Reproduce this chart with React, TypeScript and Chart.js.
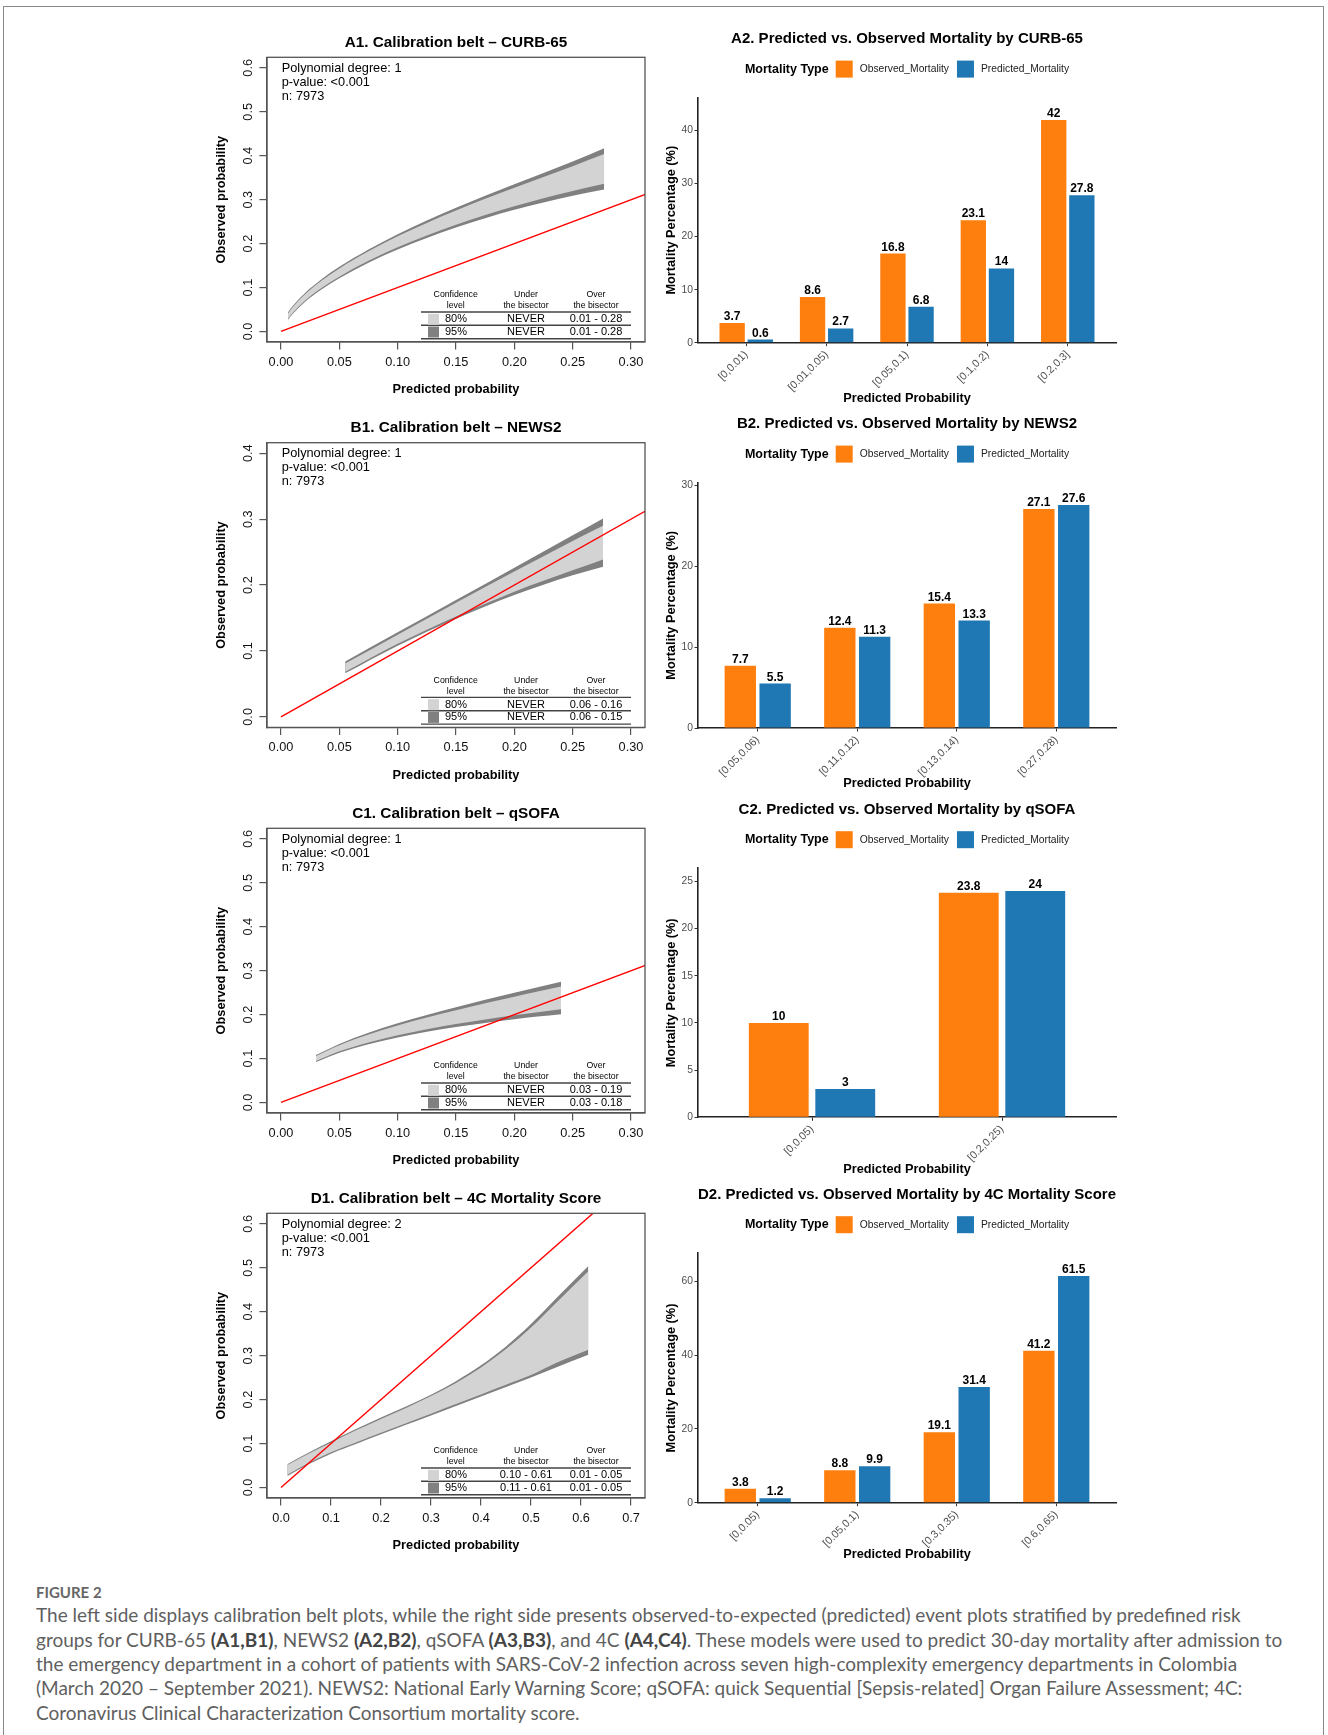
import React, { useEffect, useRef } from 'react';
import { Chart, registerables } from 'chart.js';

Chart.register(...registerables);

const FONT = '"Liberation Sans", Arial, Helvetica, sans-serif';
Chart.defaults.font.family = FONT;

// ---------------- Calibration belts (left column) ----------------
const beltXTicks03 = [0, 0.05, 0.1, 0.15, 0.2, 0.25, 0.3];
const beltXLabels03 = ['0.00', '0.05', '0.10', '0.15', '0.20', '0.25', '0.30'];
const beltXTicks07 = [0, 0.1, 0.2, 0.3, 0.4, 0.5, 0.6, 0.7];
const beltXLabels07 = ['0.0', '0.1', '0.2', '0.3', '0.4', '0.5', '0.6', '0.7'];
const beltYTicks06 = [0, 0.1, 0.2, 0.3, 0.4, 0.5, 0.6];
const beltYLabels06 = ['0.0', '0.1', '0.2', '0.3', '0.4', '0.5', '0.6'];
const beltYTicks04 = [0, 0.1, 0.2, 0.3, 0.4];
const beltYLabels04 = ['0.0', '0.1', '0.2', '0.3', '0.4'];

const a1X = [0.006, 0.01, 0.02, 0.035, 0.05, 0.075, 0.1, 0.15, 0.2, 0.25, 0.277];
const a1Hi95 = [0.0435, 0.0577, 0.086, 0.1192, 0.147, 0.1865, 0.2215, 0.2815, 0.335, 0.387, 0.417];
const a1Hi80 = [0.0411, 0.0552, 0.0832, 0.116, 0.1434, 0.1823, 0.2166, 0.2752, 0.3269, 0.3761, 0.4038];
const a1Lo80 = [0.0289, 0.0422, 0.0688, 0.0994, 0.1246, 0.1607, 0.1914, 0.2428, 0.2851, 0.3199, 0.3362];
const a1Lo95 = [0.0265, 0.0397, 0.066, 0.0962, 0.121, 0.1565, 0.1865, 0.2365, 0.277, 0.309, 0.323];

const b1X = [0.055, 0.1, 0.15, 0.2, 0.25, 0.276];
const b1Hi95 = [0.084, 0.1282, 0.1773, 0.2264, 0.2755, 0.301];
const b1Hi80 = [0.081, 0.1247, 0.1733, 0.2204, 0.267, 0.29];
const b1Lo80 = [0.0685, 0.1109, 0.1524, 0.1899, 0.2224, 0.2389];
const b1Lo95 = [0.066, 0.1079, 0.1489, 0.1849, 0.2149, 0.2279];

const c1X = [0.03, 0.05, 0.075, 0.1, 0.125, 0.15, 0.175, 0.2, 0.22, 0.24];
const c1Hi95 = [0.108, 0.1333, 0.1587, 0.18, 0.199, 0.2165, 0.234, 0.2496, 0.2625, 0.275];
const c1Hi80 = [0.1056, 0.1303, 0.1548, 0.1752, 0.1933, 0.2098, 0.226, 0.2406, 0.2525, 0.2639];
const c1Lo80 = [0.0944, 0.1163, 0.1366, 0.1528, 0.1667, 0.1783, 0.189, 0.1986, 0.2055, 0.2121];
const c1Lo95 = [0.092, 0.1133, 0.1327, 0.148, 0.161, 0.1715, 0.181, 0.1896, 0.1955, 0.201];

const d1X = [0.0127, 0.05, 0.1, 0.15, 0.2, 0.25, 0.3, 0.35, 0.4, 0.45, 0.5, 0.55, 0.6147];
const d1Hi95 = [0.053, 0.076, 0.105, 0.133, 0.159, 0.184, 0.211, 0.242, 0.278, 0.321, 0.372, 0.43, 0.504];
const d1Hi80 = [0.051, 0.074, 0.102, 0.13, 0.156, 0.181, 0.208, 0.238, 0.273, 0.315, 0.364, 0.42, 0.492];
const d1Lo80 = [0.0288, 0.053, 0.08, 0.1025, 0.1245, 0.146, 0.1678, 0.1897, 0.2117, 0.2338, 0.256, 0.2835, 0.3136];
const d1Lo95 = [0.0258, 0.05, 0.077, 0.099, 0.121, 0.1425, 0.164, 0.1855, 0.207, 0.2285, 0.2505, 0.273, 0.302];

const beltInfoDeg1 = ['Polynomial degree: 1', 'p-value: <0.001', 'n: 7973'];
const beltInfoDeg2 = ['Polynomial degree: 2', 'p-value: <0.001', 'n: 7973'];
const beltTableHeader = [['Confidence', 'level'], ['Under', 'the bisector'], ['Over', 'the bisector']];
const a1Table = [['80%', 'NEVER', '0.01 - 0.28'], ['95%', 'NEVER', '0.01 - 0.28']];
const b1Table = [['80%', 'NEVER', '0.06 - 0.16'], ['95%', 'NEVER', '0.06 - 0.15']];
const c1Table = [['80%', 'NEVER', '0.03 - 0.19'], ['95%', 'NEVER', '0.03 - 0.18']];
const d1Table = [['80%', '0.10 - 0.61', '0.01 - 0.05'], ['95%', '0.11 - 0.61', '0.01 - 0.05']];

// ---------------- Observed vs predicted bars (right column) ----------------
const seriesNames = ['Observed_Mortality', 'Predicted_Mortality'];
const a2Categories = ['[0,0.01)', '[0.01,0.05)', '[0.05,0.1)', '[0.1,0.2)', '[0.2,0.3]'];
const a2Observed = [3.7, 8.6, 16.8, 23.1, 42];
const a2Predicted = [0.6, 2.7, 6.8, 14, 27.8];
const a2YTicks = [0, 10, 20, 30, 40];
const b2Categories = ['[0.05,0.06)', '[0.11,0.12)', '[0.13,0.14)', '[0.27,0.28)'];
const b2Observed = [7.7, 12.4, 15.4, 27.1];
const b2Predicted = [5.5, 11.3, 13.3, 27.6];
const b2YTicks = [0, 10, 20, 30];
const c2Categories = ['[0,0.05)', '[0.2,0.25)'];
const c2Observed = [10, 23.8];
const c2Predicted = [3, 24];
const c2YTicks = [0, 5, 10, 15, 20, 25];
const d2Categories = ['[0,0.05)', '[0.05,0.1)', '[0.3,0.35)', '[0.6,0.65)'];
const d2Observed = [3.8, 8.8, 19.1, 41.2];
const d2Predicted = [1.2, 9.9, 31.4, 61.5];
const d2YTicks = [0, 20, 40, 60];

const ORANGE = '#ff7f0e';
const BLUE = '#1f77b4';

const beltPanels = [
  { title: 'A1. Calibration belt – CURB-65', boxTop: 57.3, x: a1X, hi95: a1Hi95, hi80: a1Hi80, lo80: a1Lo80, lo95: a1Lo95,
    xMin: -0.012, xMax: 0.312, xTicks: beltXTicks03, xLabels: beltXLabels03, yMin: -0.024, yMax: 0.624, yTicks: beltYTicks06, yLabels: beltYLabels06, info: beltInfoDeg1, table: a1Table },
  { title: 'B1. Calibration belt – NEWS2', boxTop: 442.7, x: b1X, hi95: b1Hi95, hi80: b1Hi80, lo80: b1Lo80, lo95: b1Lo95,
    xMin: -0.012, xMax: 0.312, xTicks: beltXTicks03, xLabels: beltXLabels03, yMin: -0.016, yMax: 0.416, yTicks: beltYTicks04, yLabels: beltYLabels04, info: beltInfoDeg1, table: b1Table },
  { title: 'C1. Calibration belt – qSOFA', boxTop: 828.3, x: c1X, hi95: c1Hi95, hi80: c1Hi80, lo80: c1Lo80, lo95: c1Lo95,
    xMin: -0.012, xMax: 0.312, xTicks: beltXTicks03, xLabels: beltXLabels03, yMin: -0.024, yMax: 0.624, yTicks: beltYTicks06, yLabels: beltYLabels06, info: beltInfoDeg1, table: c1Table },
  { title: 'D1. Calibration belt – 4C Mortality Score', boxTop: 1213.3, x: d1X, hi95: d1Hi95, hi80: d1Hi80, lo80: d1Lo80, lo95: d1Lo95,
    xMin: -0.028, xMax: 0.728, xTicks: beltXTicks07, xLabels: beltXLabels07, yMin: -0.024, yMax: 0.624, yTicks: beltYTicks06, yLabels: beltYLabels06, info: beltInfoDeg2, table: d1Table },
];

const barPanels = [
  { title: 'A2. Predicted vs. Observed Mortality by CURB-65', axisTop: 97.7, axisBottom: 342.7, xTitleY: 398, cats: a2Categories, obs: a2Observed, pred: a2Predicted, yTicks: a2YTicks },
  { title: 'B2. Predicted vs. Observed Mortality by NEWS2', axisTop: 482.7, axisBottom: 728, xTitleY: 783.3, cats: b2Categories, obs: b2Observed, pred: b2Predicted, yTicks: b2YTicks },
  { title: 'C2. Predicted vs. Observed Mortality by qSOFA', axisTop: 868.3, axisBottom: 1117.3, xTitleY: 1169, cats: c2Categories, obs: c2Observed, pred: c2Predicted, yTicks: c2YTicks },
  { title: 'D2. Predicted vs. Observed Mortality by 4C Mortality Score', axisTop: 1253.3, axisBottom: 1502.7, xTitleY: 1554, cats: d2Categories, obs: d2Observed, pred: d2Predicted, yTicks: d2YTicks },
];

// ---------------- Layout constants ----------------
const L_CANVAS_X = 150;
const L_CANVAS_W = 510;
const L_BOX_LEFT = 267;
const L_BOX_RIGHT = 645;
const L_BOX_H = 284.7;

const R_CANVAS_X = 650;
const R_CANVAS_W = 560;
const R_AXIS_LEFT = 698;
const R_AXIS_RIGHT = 1116;

function BeltPanel({ p }: { p: any }) {
  const ref = useRef<HTMLCanvasElement>(null);
  const canvasTop = Math.round(p.boxTop - 40);
  const titleRegion = p.boxTop - canvasTop;
  const canvasH = 386;
  const xAxisH = canvasH - titleRegion - L_BOX_H;

  useEffect(() => {
    const el = ref.current!;
    const pts = (arr: number[]) => p.x.map((x: number, i: number) => ({ x, y: arr[i] }));
    const band = (arr: number[], extra: any) => ({
      data: pts(arr), borderColor: 'rgba(0,0,0,0)', borderWidth: 0, pointRadius: 0,
      cubicInterpolationMode: 'monotone', ...extra,
    });
    const titleSize = 15.3;
    const titleLH = titleSize * 1.2;
    const titleCenter = p.boxTop - 14.6 - canvasTop;
    const tPadTop = titleCenter - titleLH / 2;
    const tPadBottom = titleRegion - tPadTop - titleLH;

    const decor = {
      id: 'beltDecor',
      afterDraw(chart: any) {
        const { ctx, chartArea: ca } = chart;
        ctx.save();
        ctx.fillStyle = '#000';
        ctx.font = `12.75px ${FONT}`;
        ctx.textAlign = 'left';
        ctx.textBaseline = 'alphabetic';
        p.info.forEach((t: string, i: number) => ctx.fillText(t, ca.left + 14.7, ca.top + 14.5 + i * 14));
        const R = ca.right, B = ca.bottom;
        const cols = [R - 189.3, R - 119, R - 49];
        ctx.font = `8.75px ${FONT}`;
        ctx.textAlign = 'center';
        ctx.textBaseline = 'middle';
        beltTableHeader.forEach((h, c) => {
          ctx.fillText(h[0], cols[c], B - 47);
          ctx.fillText(h[1], cols[c], B - 36);
        });
        ctx.strokeStyle = '#444';
        ctx.lineWidth = 1.4;
        [B - 30, B - 16.7, B - 3.3].forEach((y) => {
          ctx.beginPath(); ctx.moveTo(R - 224, y); ctx.lineTo(R - 14, y); ctx.stroke();
        });
        const rowY = [B - 22.7, B - 10];
        const sw = ['#d3d3d3', '#808080'];
        ctx.font = `11px ${FONT}`;
        p.table.forEach((row: string[], r: number) => {
          ctx.fillStyle = sw[r];
          ctx.fillRect(R - 217, rowY[r] - 5.5, 11, 11);
          ctx.fillStyle = '#000';
          ctx.textAlign = 'left';
          ctx.fillText(row[0], R - 200, rowY[r]);
          ctx.textAlign = 'center';
          ctx.fillText(row[1], cols[1], rowY[r]);
          ctx.fillText(row[2], cols[2], rowY[r]);
        });
        ctx.strokeStyle = '#555';
        ctx.lineWidth = 1.3;
        ctx.strokeRect(ca.left, ca.top, ca.right - ca.left, ca.bottom - ca.top);
        ctx.restore();
      },
    };

    const chart = new Chart(el, {
      type: 'line',
      data: {
        datasets: [
          { label: 'bisector', data: [{ x: 0, y: 0 }, { x: 1, y: 1 }], borderColor: '#ff0000', borderWidth: 1.4, pointRadius: 0, fill: false, order: 0 } as any,
          band(p.hi80, { label: 'hi80', fill: '+1', backgroundColor: '#d3d3d3', order: 1 }),
          band(p.lo80, { label: 'lo80', fill: false, order: 2 }),
          band(p.hi95, { label: 'hi95', fill: '+1', backgroundColor: '#808080', order: 3 }),
          band(p.lo95, { label: 'lo95', fill: false, order: 4 }),
        ],
      },
      options: {
        animation: false,
        responsive: false,
        events: [],
        layout: { padding: { left: 0, right: L_CANVAS_X + L_CANVAS_W - L_BOX_RIGHT, top: 0, bottom: 0 }, autoPadding: false },
        plugins: {
          legend: { display: false },
          tooltip: { enabled: false },
          title: {
            display: true, text: p.title, fullSize: false, color: '#000',
            font: { family: FONT, size: titleSize, weight: 'bold', lineHeight: 1.2 },
            padding: { top: tPadTop, bottom: tPadBottom },
          },
        },
        scales: {
          x: {
            type: 'linear', min: p.xMin, max: p.xMax,
            afterBuildTicks: (ax: any) => { ax.ticks = p.xTicks.map((v: number) => ({ value: v })); },
            afterFit: (ax: any) => { ax.height = xAxisH; },
            ticks: { autoSkip: false, maxRotation: 0, minRotation: 0, color: '#111', padding: 4.9,
              font: { family: FONT, size: 12.75 }, callback: (_v: any, i: number) => p.xLabels[i] },
            grid: { display: true, drawOnChartArea: false, drawTicks: true, tickLength: 7.6, color: '#555', lineWidth: 1.2 },
            border: { display: true, color: '#555', width: 1.3 },
            title: { display: true, text: 'Predicted probability', color: '#000',
              font: { family: FONT, size: 12.75, weight: 'bold', lineHeight: 1.2 }, padding: { top: 0, bottom: 5.65 } },
          },
          y: {
            type: 'linear', min: p.yMin, max: p.yMax,
            afterBuildTicks: (ax: any) => { ax.ticks = p.yTicks.map((v: number) => ({ value: v })); },
            afterFit: (ax: any) => { ax.width = L_BOX_LEFT - L_CANVAS_X; },
            ticks: { autoSkip: false, minRotation: 90, maxRotation: 90, crossAlign: 'center', color: '#111', padding: 2.5,
              font: { family: FONT, size: 12.75 }, callback: (_v: any, i: number) => p.yLabels[i] },
            grid: { display: true, drawOnChartArea: false, drawTicks: true, tickLength: 7.6, color: '#555', lineWidth: 1.2 },
            border: { display: true, color: '#555', width: 1.3 },
            title: { display: true, text: 'Observed probability', color: '#000',
              font: { family: FONT, size: 12.75, weight: 'bold', lineHeight: 1.2 }, padding: { top: 221 - L_CANVAS_X - 7.65, bottom: 0 } },
          },
        },
      } as any,
      plugins: [decor],
    });
    return () => chart.destroy();
  }, [p]);

  return (
    <canvas ref={ref} width={L_CANVAS_W} height={canvasH}
      style={{ position: 'absolute', left: L_CANVAS_X, top: canvasTop, width: L_CANVAS_W, height: canvasH }} />
  );
}

function BarPanel({ p }: { p: any }) {
  const ref = useRef<HTMLCanvasElement>(null);
  const canvasTop = Math.round(p.axisTop - 75);
  const canvasBottom = Math.round(p.xTitleY + 14);
  const canvasH = canvasBottom - canvasTop;
  const topRegion = p.axisTop - canvasTop;
  const xAxisH = canvasBottom - p.axisBottom;

  useEffect(() => {
    const el = ref.current!;
    const n = p.cats.length;
    const yMax = Math.max(...p.obs, ...p.pred) * 1.1;
    const titleSize = 15;
    const titleLH = titleSize * 1.2;
    const titleCenter = p.axisTop - 58.7 - canvasTop;
    const tPadTop = titleCenter - titleLH / 2;
    const tPadBottom = topRegion - tPadTop - titleLH;

    const decor = {
      id: 'barDecor',
      afterDatasetsDraw(chart: any) {
        const { ctx } = chart;
        ctx.save();
        ctx.fillStyle = '#000';
        ctx.font = `bold 12px ${FONT}`;
        ctx.textAlign = 'center';
        ctx.textBaseline = 'alphabetic';
        chart.data.datasets.forEach((ds: any, di: number) => {
          const meta = chart.getDatasetMeta(di);
          meta.data.forEach((bar: any, i: number) => {
            ctx.fillText(String(ds.data[i].y), bar.x, bar.y - 3);
          });
        });
        ctx.restore();
      },
      afterDraw(chart: any) {
        const { ctx, chartArea: ca } = chart;
        ctx.save();
        const cx = (ca.left + ca.right) / 2;
        const y = ca.top - 28.6;
        ctx.font = `bold 12.5px ${FONT}`;
        const title = 'Mortality Type';
        const wT = ctx.measureText(title).width;
        ctx.font = `10.3px ${FONT}`;
        const labels = chart.data.datasets.map((d: any) => d.label);
        const colors = chart.data.datasets.map((d: any) => d.backgroundColor);
        const wL = labels.map((l: string) => ctx.measureText(l).width);
        const key = 17, g1 = 7, g2 = 7, g3 = 8;
        const total = wT + g1 + key + g2 + wL[0] + g3 + key + g2 + wL[1];
        let x = cx - total / 2;
        ctx.textBaseline = 'middle';
        ctx.textAlign = 'left';
        ctx.fillStyle = '#000';
        ctx.font = `bold 12.5px ${FONT}`;
        ctx.fillText(title, x, y);
        x += wT + g1;
        ctx.font = `10.3px ${FONT}`;
        for (let i = 0; i < 2; i++) {
          ctx.fillStyle = colors[i];
          ctx.fillRect(x, y - key / 2, key, key);
          x += key + g2;
          ctx.fillStyle = '#222';
          ctx.fillText(labels[i], x, y);
          x += wL[i] + g3;
        }
        ctx.restore();
      },
    };

    const chart = new Chart(el, {
      type: 'bar',
      data: {
        datasets: [
          { label: seriesNames[0], data: p.obs.map((v: number, i: number) => ({ x: i, y: v })), backgroundColor: ORANGE },
          { label: seriesNames[1], data: p.pred.map((v: number, i: number) => ({ x: i, y: v })), backgroundColor: BLUE },
        ],
      },
      options: {
        animation: false,
        responsive: false,
        events: [],
        layout: { padding: { left: 0, right: R_CANVAS_X + R_CANVAS_W - R_AXIS_RIGHT, top: 0, bottom: 0 }, autoPadding: false },
        datasets: { bar: { categoryPercentage: 0.7, barPercentage: 0.9 } },
        plugins: {
          legend: { display: false },
          tooltip: { enabled: false },
          title: {
            display: true, text: p.title, fullSize: false, color: '#000',
            font: { family: FONT, size: titleSize, weight: 'bold', lineHeight: 1.2 },
            padding: { top: tPadTop, bottom: tPadBottom },
          },
        },
        scales: {
          x: {
            type: 'linear', min: -0.6, max: n - 1 + 0.6, offset: false,
            afterBuildTicks: (ax: any) => { ax.ticks = p.cats.map((_c: string, i: number) => ({ value: i })); },
            afterFit: (ax: any) => { ax.height = xAxisH; },
            ticks: { autoSkip: false, minRotation: 45, maxRotation: 45, color: '#4d4d4d', padding: 2,
              font: { family: FONT, size: 10.8 }, callback: (_v: any, i: number) => p.cats[i] },
            grid: { display: true, offset: false, drawOnChartArea: false, drawTicks: true, tickLength: 3.5, color: '#333', lineWidth: 1 },
            border: { display: true, color: '#222', width: 1.6 },
            title: { display: true, text: 'Predicted Probability', color: '#000',
              font: { family: FONT, size: 12.75, weight: 'bold', lineHeight: 1.2 }, padding: { top: 0, bottom: 14 - 7.65 } },
          },
          y: {
            type: 'linear', min: 0, max: yMax,
            afterBuildTicks: (ax: any) => { ax.ticks = p.yTicks.map((v: number) => ({ value: v })); },
            afterFit: (ax: any) => { ax.width = R_AXIS_LEFT - R_CANVAS_X; },
            ticks: { autoSkip: false, color: '#4d4d4d', padding: 1.5, font: { family: FONT, size: 10.3 } },
            grid: { display: true, drawOnChartArea: false, drawTicks: true, tickLength: 3.5, color: '#333', lineWidth: 1 },
            border: { display: true, color: '#222', width: 1.6 },
            title: { display: true, text: 'Mortality Percentage (%)', color: '#000',
              font: { family: FONT, size: 12.75, weight: 'bold', lineHeight: 1.2 }, padding: { top: 671.6 - R_CANVAS_X - 7.65, bottom: 0 } },
          },
        },
      } as any,
      plugins: [decor],
    });
    return () => chart.destroy();
  }, [p]);

  return (
    <canvas ref={ref} width={R_CANVAS_W} height={canvasH}
      style={{ position: 'absolute', left: R_CANVAS_X, top: canvasTop, width: R_CANVAS_W, height: canvasH }} />
  );
}

const captionLines: (string | { b: string })[][] = [
  ['The left side displays calibration belt plots, while the right side presents observed-to-expected (predicted) event plots stratified by predefined risk'],
  ['groups for CURB-65 ', { b: '(A1,B1)' }, ', NEWS2 ', { b: '(A2,B2)' }, ', qSOFA ', { b: '(A3,B3)' }, ', and 4C ', { b: '(A4,C4)' }, '. These models were used to predict 30-day mortality after admission to'],
  ['the emergency department in a cohort of patients with SARS-CoV-2 infection across seven high-complexity emergency departments in Colombia'],
  ['(March 2020 – September 2021). NEWS2: National Early Warning Score; qSOFA: quick Sequential [Sepsis-related] Organ Failure Assessment; 4C:'],
  ['Coronavirus Clinical Characterization Consortium mortality score.'],
];

export default function App() {
  const capFont = 'Lato, "Open Sans", sans-serif';
  return (
    <div style={{ position: 'absolute', left: 0, top: 0, width: 1328, height: 1735, background: '#fff', overflow: 'hidden' }}>
      <div style={{ position: 'absolute', left: 3, top: 6, width: 1321, height: 1760, border: '1.5px solid #8a8a8a', boxSizing: 'border-box' }} />
      {beltPanels.map((p, i) => <BeltPanel key={'b' + i} p={p} />)}
      {barPanels.map((p, i) => <BarPanel key={'r' + i} p={p} />)}
      <div style={{ position: 'absolute', left: 36, top: 1581, fontFamily: capFont, fontWeight: 700, fontSize: 15, lineHeight: '22px', color: '#666' }}>FIGURE 2</div>
      {captionLines.map((line, i) => (
        <div key={'c' + i} style={{ position: 'absolute', left: 36, top: 1603.3 + i * 24.3, fontFamily: capFont, fontSize: 19, lineHeight: '24.3px', color: '#5f5f5f', whiteSpace: 'nowrap' }}>
          {line.map((seg, j) => (typeof seg === 'string' ? <span key={j}>{seg}</span> : <b key={j} style={{ color: '#444' }}>{seg.b}</b>))}
        </div>
      ))}
    </div>
  );
}
